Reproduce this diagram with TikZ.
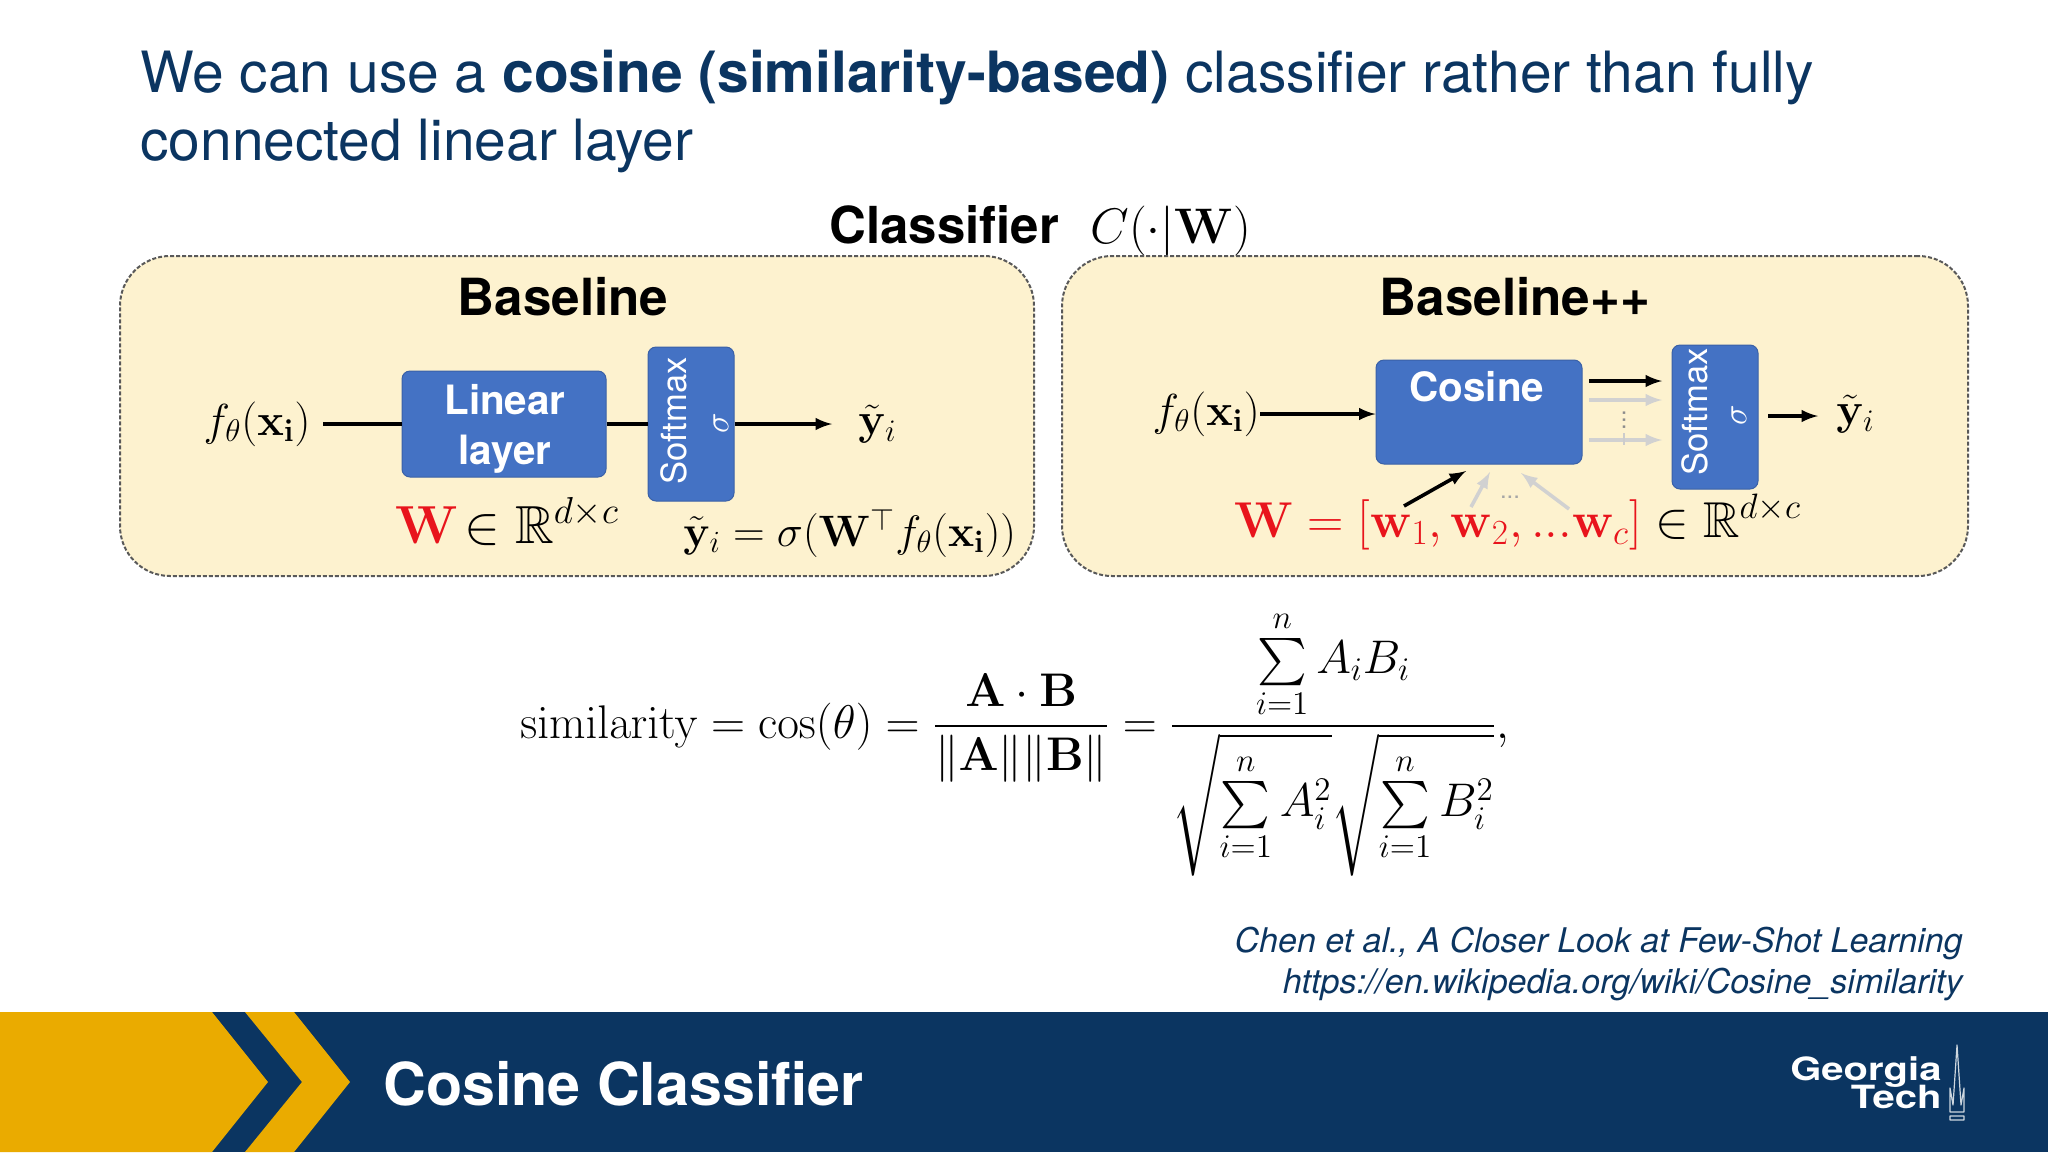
\documentclass[tikz,border=0pt]{standalone}
\usepackage[no-math]{fontspec}
\usepackage{fix-cm}
\usepackage{amssymb}
\setmainfont{TeX Gyre Heros}
\usetikzlibrary{shapes, arrows, positioning, calc}
\definecolor{navyGT}{HTML}{0B3561}
\definecolor{goldGT}{HTML}{EAAB00}
\definecolor{panelFill}{HTML}{FDF2CF}
\definecolor{boxBlue}{HTML}{4472C4}
\definecolor{mathRed}{HTML}{E8141C}
\tikzset{
  panel/.style = {draw=black!65, fill=panelFill, dash pattern=on 2pt off 1pt, line width=1pt, rounded corners=25pt, inner sep=0pt, minimum height=160pt},
  block/.style = {fill=boxBlue, draw=boxBlue!85!black, line width=0.5pt, rounded corners=4pt, inner sep=0pt, text=white, align=center},
  blockText/.style = {font=\fontsize{20.2}{25}\selectfont\bfseries, text=white, align=center, inner sep=0pt},
  softText/.style = {font=\fontsize{17.3}{20}\selectfont, text=white, rotate=90, inner sep=0pt},
  heading/.style = {font=\fontsize{25.6}{30}\selectfont\bfseries, text=black, inner sep=0pt, anchor=base},
  mathText/.style = {font=\fontsize{22.4}{27}\selectfont, inner sep=0pt},
  arrow/.style = {-latex, line width=1.8pt},
  plain/.style = {line width=1.8pt},
  grayArrow/.style = {-latex, line width=1.8pt, draw=black!18}
}

\begin{document}
\begin{tikzpicture}[x=0.5pt, y=-0.5pt]
  \useasboundingbox (0,0) rectangle (2048,1152);

  % title
  \node[anchor=north west, inner sep=0pt, align=left, text=navyGT, font=\fontsize{28.45}{34}\selectfont] (title) at (140,50)
    {We can use a \textbf{cosine (similarity-based)} classifier rather than fully\\connected linear layer};

  \node[font=\fontsize{25.5}{30}\selectfont\bfseries, anchor=base west, inner sep=0pt] (classifier) at (829,243) {Classifier};
  \node[mathText, font=\fontsize{25}{30}\selectfont, anchor=base west] (classifierMath) at (1090,243) {$C(\cdot|\mathbf{W})$};

  % panels
  \node[panel, minimum width=457pt] (baseline) at (577,416) {};
  \node[panel, minimum width=453pt] (baselinePP) at (1515,416) {};
  \node[heading] (baselineTitle) at (563,315) {Baseline};
  \node[heading] (baselinePPTitle) at (1515,315) {Baseline++};

  % baseline
  \node[mathText, anchor=east] (fA) at (311,424) {$f_\theta(\mathbf{x_i})$};
  \node[block, minimum width=102pt, minimum height=53pt] (linear) at (504,424) {};
  \node[blockText] (linearText) at (505,429) {Linear\\layer};
  \node[block, minimum width=43pt, minimum height=77pt] (softA) at (691,424) {};
  \node[softText] (softAText) at (674,421) {Softmax};
  \node[softText] (sigmaA) at (721,423) {$\sigma$};
  \node[mathText, anchor=west] (yA) at (858,424) {$\tilde{\mathbf{y}}_i$};
  \coordinate (outA) at (832,424);

  \draw[plain] (fA.east) ++(12,0) -- (linear.west);
  \draw[plain] (linear.east) -- (softA.west);
  \draw[arrow] (softA.east) -- (outA);

  \node[mathText, anchor=base west, font=\fontsize{26.8}{32}\selectfont] (wA) at (395,543)
    {$\textcolor{mathRed}{\mathbf{W}}\!\in\mathbb{R}^{d\times c}$};
  \node[mathText, anchor=base west, font=\fontsize{22}{27}\selectfont] (eqA) at (683,546)
    {$\tilde{\mathbf{y}}_i=\sigma(\mathbf{W}^\top f_\theta(\mathbf{x_i}))$};

  % baseline++
  \node[mathText, anchor=east] (fB) at (1260,414) {$f_\theta(\mathbf{x_i})$};
  \node[block, minimum width=103pt, minimum height=52pt] (cosine) at (1479,412) {};
  \node[blockText, anchor=base] (cosineText) at (1477,401) {Cosine};
  \node[block, minimum width=43pt, minimum height=72pt] (softB) at (1715,417) {};
  \node[softText] (softBText) at (1695,412) {Softmax};
  \node[softText] (sigmaB) at (1739,415) {$\sigma$};
  \node[mathText, anchor=west] (yB) at (1836,414) {$\tilde{\mathbf{y}}_i$};

  \coordinate (outB) at (1818,416);
  \draw[arrow] (fB.east) -- (cosine.west |- fB.east);
  \draw[arrow] (1768,416) -- (outB);

  \foreach \y/\sty in {400/grayArrow, 440/grayArrow, 381/arrow}
    \draw[\sty] (1589,\y) -- (1662,\y);
  \node[inner sep=0pt, text=black!45, rotate=90, font=\fontsize{12}{12}\selectfont] (vdots) at (1624,420) {...};
  \draw[black!20, line width=1.2pt] (1624,433) -- (1624,445);

  \coordinate (wOne) at (1404,506);
  \coordinate (wOneEnd) at (1466,471);
  \coordinate (wTwo) at (1471,507);
  \coordinate (wTwoEnd) at (1490,472);
  \coordinate (wThree) at (1569,509);
  \coordinate (wThreeEnd) at (1521,473);
  \draw[grayArrow] (wTwo) -- (wTwoEnd);
  \draw[grayArrow] (wThree) -- (wThreeEnd);
  \draw[arrow] (wOne) -- (wOneEnd);
  \node[inner sep=0pt, text=black!35, font=\fontsize{12}{12}\selectfont] (wDots) at (1510,497) {...};

  \node[mathText, anchor=base west, font=\fontsize{25.2}{30}\selectfont] (wB) at (1234,537)
    {$\textcolor{mathRed}{\mathbf{W}=[\mathbf{w}_1,\mathbf{w}_2,...\mathbf{w}_c]}\in\mathbb{R}^{d\times c}$};

  % similarity formula
  \node[anchor=base west, inner sep=0pt, font=\fontsize{23.6}{29}\selectfont] (formula) at (520,738)
    {$\displaystyle \mathrm{similarity}=\cos(\theta)=\frac{\mathbf{A}\cdot\mathbf{B}}{\|\mathbf{A}\|\|\mathbf{B}\|}=\frac{\sum\limits_{i=1}^{n}A_iB_i}{\sqrt{\sum\limits_{i=1}^{n}A_i^2}\sqrt{\sum\limits_{i=1}^{n}B_i^2}},$};

  % references
  \node[anchor=base east, inner sep=0pt, text=navyGT, align=right, font=\fontsize{17}{20}\selectfont\itshape] (refOne) at (1963,952) {Chen et al., A Closer Look at Few-Shot Learning};
  \node[anchor=base east, inner sep=0pt, text=navyGT, align=right, font=\fontsize{17}{20}\selectfont\itshape] (refTwo) at (1963,993) {https://en.wikipedia.org/wiki/Cosine\_similarity};

  % footer
  \fill[navyGT] (0,1012) rectangle (2048,1152);
  \fill[goldGT] (0,1012) -- (212,1012) -- (268,1082) -- (212,1152) -- (0,1152) -- cycle;
  \fill[goldGT] (245,1012) -- (294,1012) -- (350,1082) -- (294,1152) -- (245,1152) -- (302,1082) -- cycle;
  \node[anchor=base west, inner sep=0pt, text=white, font=\fontsize{29.6}{34}\selectfont\bfseries] (footerTitle) at (383,1105) {Cosine Classifier};

  % logo
  \node[anchor=base east, inner sep=0pt, text=white, xscale=1.25, transform shape, font=\fontsize{16}{18}\selectfont\bfseries] (logoA) at (1942,1080) {Georgia};
  \node[anchor=base east, inner sep=0pt, text=white, xscale=1.25, transform shape, font=\fontsize{16}{18}\selectfont\bfseries] (logoB) at (1942,1108) {Tech};
  \draw[white!80!navyGT, line width=0.6pt, line join=round]
    (1957,1045) -- (1953,1105) -- (1950,1088) -- (1950,1112) -- (1964,1112) -- (1964,1088) -- (1961,1105) -- cycle
    (1950,1116) rectangle (1964,1120);
\end{tikzpicture}
\end{document}
